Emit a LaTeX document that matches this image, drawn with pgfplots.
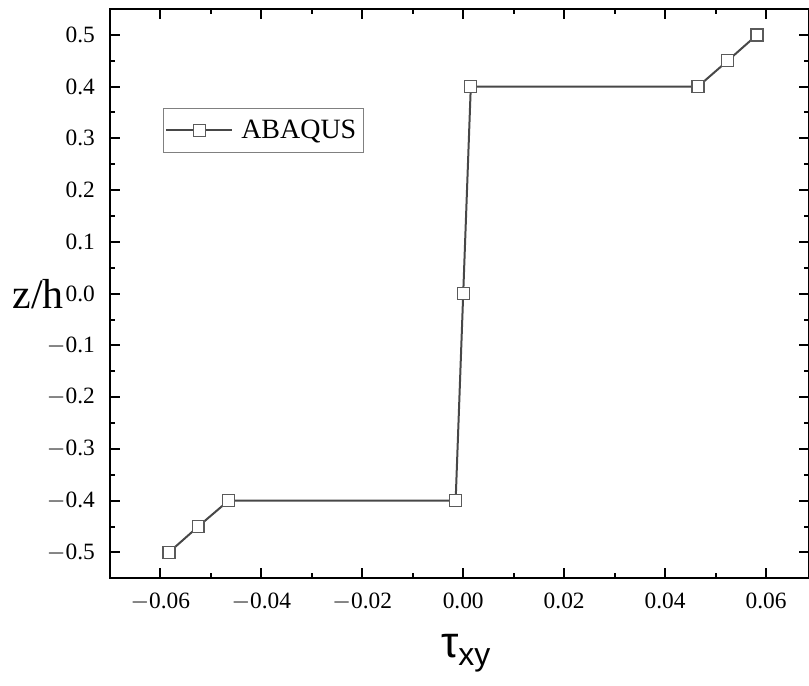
\documentclass[border=0pt]{standalone}
\usepackage{pgfplots}
\pgfplotsset{compat=1.18}
\usepackage{fontspec}
\setmainfont{Liberation Serif}
\newfontfamily\sansf{Liberation Sans}
\definecolor{lineg}{HTML}{474747}
\definecolor{markg}{HTML}{5A5A5A}

\begin{document}
\begin{tikzpicture}
\begin{axis}[
    scale only axis,
    width=350pt, height=285pt,
    xmin=-0.07, xmax=0.0685,
    ymin=-0.55, ymax=0.55,
    axis line style={line width=1pt},
    tick align=inside,
    major tick length=5pt, minor tick length=2.5pt,
    every tick/.style={black, line width=1pt},
    xtick={-0.06,-0.04,...,0.061},
    ytick={-0.5,-0.4,...,0.51},
    scaled x ticks=false, scaled y ticks=false,
    minor x tick num=1, minor y tick num=1,
    xticklabels={$-$0.06,$-$0.04,$-$0.02,0.00,0.02,0.04,0.06},
    yticklabels={$-$0.5,$-$0.4,$-$0.3,$-$0.2,$-$0.1,0.0,0.1,0.2,0.3,0.4,0.5},
    ticklabel style={font=\fontsize{11.7}{14}\selectfont},
    yticklabel style={xshift=-4pt},
    xticklabel style={yshift=-4pt},
    every axis y label/.style={at={(axis description cs:0,0.5)}, anchor=base east,
        xshift=-19.5pt, yshift=-7.5pt, font=\fontsize{21}{24}\selectfont},
    ylabel={z/h},
    every axis x label/.style={at={(axis description cs:0.509,0)}, anchor=base,
        yshift=-39.5pt, font=\fontsize{22}{26}\sansf},
    xlabel={τ\raisebox{-0.35ex}{\fontsize{16}{18}\sansf xy}},
    legend style={at={(axis description cs:0.0757,0.826)}, anchor=north west,
        draw=gray, line width=0.6pt, font=\fontsize{14}{16}\selectfont,
        inner xsep=1pt, inner ysep=3.5pt, row sep=0pt, column sep=0pt,
        nodes={inner xsep=2.5pt}},
    legend image code/.code={
        \draw[#1, mark=none] (-1pt,0pt) -- (32pt,0pt);
        \draw[#1, only marks] plot coordinates {(15.5pt,0pt)};
        \path (33.5pt,0pt);
    },
]
\addplot[color=lineg, line width=1pt, mark=square*, mark size=3pt,
    mark options={fill=white, draw=markg, line width=0.7pt}] coordinates {
    (-0.0583,-0.50) (-0.0525,-0.45) (-0.0465,-0.40) (-0.0015,-0.40)
    (0.0000,0.00) (0.0015,0.40) (0.0465,0.40) (0.0524,0.45) (0.0582,0.50)
};
\legend{ABAQUS}
\end{axis}
\pgfresetboundingbox
\path ([xshift=-55pt,yshift=-53.5pt]current axis.south west)
    rectangle ([yshift=4.5pt]current axis.north east);
\end{tikzpicture}
\end{document}
